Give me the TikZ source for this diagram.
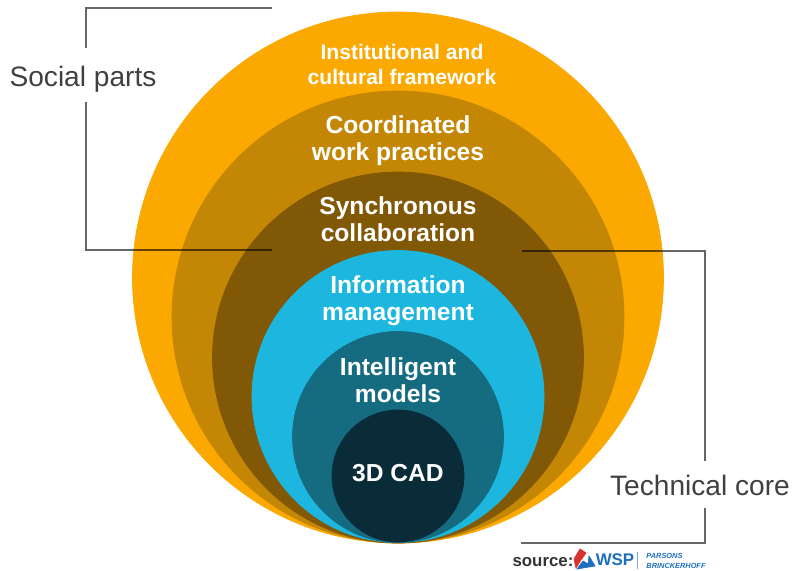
\documentclass[tikz,border=0pt]{standalone}
\usepackage{fontspec}
\setmainfont{Liberation Sans}
\definecolor{ringa}{HTML}{FBA900}
\definecolor{ringb}{HTML}{C48705}
\definecolor{ringc}{HTML}{815806}
\definecolor{ringd}{HTML}{1DB6DF}
\definecolor{ringe}{HTML}{156C80}
\definecolor{ringf}{HTML}{0A2B38}
\definecolor{wspblue}{HTML}{1F6FC0}
\definecolor{wspred}{HTML}{D8322E}
\tikzset{
  bandlabel/.style={text=white, font=\fontsize{14}{15.4}\selectfont\bfseries, align=center, inner sep=0pt},
  outerlabel/.style={text=white, font=\fontsize{12}{14.2}\selectfont\bfseries, align=center, inner sep=0pt},
  sidelabel/.style={text=black!75, font=\fontsize{16}{18}\selectfont, inner sep=0pt},
  bracketline/.style={black!60, line width=1.1pt, blend mode=multiply},
}
\begin{document}
\begin{tikzpicture}[x=0.02cm,y=-0.02cm]
        \useasboundingbox (0,0) rectangle (792,571);

        \filldraw[ringa] (398,277.5) circle (265.5);
        \filldraw[ringb] (398,317) circle (226);
        \filldraw[ringc] (398,357.5) circle (185.5);
        \filldraw[ringd] (398,396.5) circle (146);
        \filldraw[ringe] (398,437) circle (105.5);
        \filldraw[ringf] (398,476) circle (66);

        \node[outerlabel] (framework) at (402,64) {Institutional and\\cultural framework};
        \node[bandlabel] (practices) at (398,141) {Coordinated\\work practices};
        \node[bandlabel] (collab) at (398,219) {Synchronous\\collaboration};
        \node[bandlabel] (infoman) at (398,301) {Information\\management};
        \node[bandlabel] (intmodels) at (398,380) {Intelligent\\models};
        \node[bandlabel] (cad) at (398,473) {3D CAD};

        \node[sidelabel] (social) at (83,79) {Social parts};
        \node[sidelabel] (technical) at (700,485) {Technical core};

        \coordinate (socialtop) at (272,8);
        \coordinate (socialcorner) at (86,8);
        \coordinate (socialstem) at (86,48);
        \coordinate (sociallow) at (86,102);
        \coordinate (socialbend) at (86,250);
        \coordinate (socialend) at (272,250);
        \coordinate (coretop) at (522,251);
        \coordinate (corebend) at (705,251);
        \coordinate (corestem) at (705,461);
        \coordinate (corelow) at (705,508);
        \coordinate (corefoot) at (705,543);
        \coordinate (coreend) at (521,543);

        \draw[bracketline] (socialtop) -- (socialcorner) -- (socialstem);
        \draw[bracketline] (sociallow) -- (socialbend) -- (socialend);
        \draw[bracketline] (coretop) -- (corebend) -- (corestem);
        \draw[bracketline] (corelow) -- (corefoot) -- (coreend);

        \node[text=black!80, font=\fontsize{9.6}{10}\selectfont\bfseries, inner sep=0pt] (source) at (543,562) {source:};
        \filldraw[wspred] (574,559) -- (580,549) -- (586,553) -- (581,560) -- (576,568) -- cycle;
        \filldraw[wspblue] (577,569) -- (583,561) -- (588,564) -- (589,556) -- (595,566) -- cycle;
        \node[text=wspblue, font=\fontsize{9.6}{12}\selectfont\bfseries, inner sep=0pt] (wsp) at (615,560) {WSP};
        \draw[wspblue!60, line width=0.4pt] (637,552) -- (637,569);
        \node[text=wspblue, font=\fontsize{4.2}{5.2}\selectfont\bfseries\itshape, align=left, inner sep=0pt] (parsons) at (676,561) {PARSONS\\BRINCKERHOFF};
\end{tikzpicture}
\end{document}
